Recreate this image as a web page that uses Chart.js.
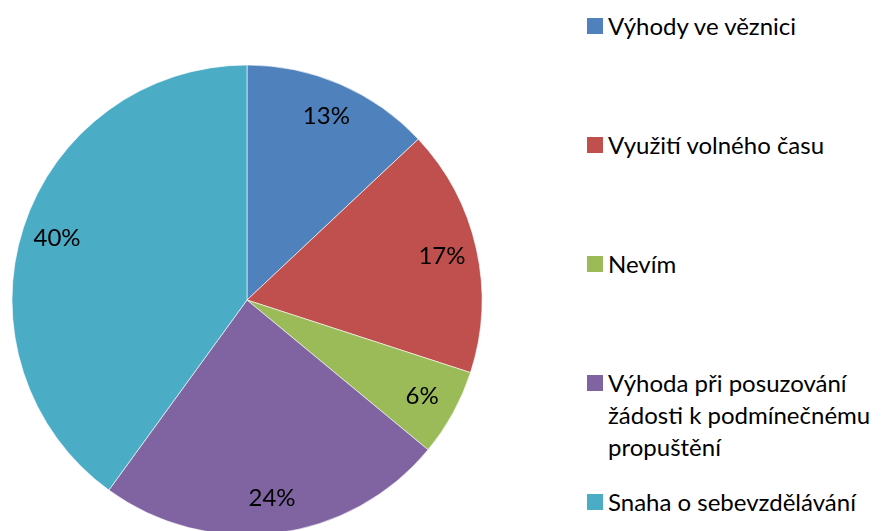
<!DOCTYPE html>
<html>
<head>
<meta charset="utf-8">
<script src="https://cdn.jsdelivr.net/npm/chart.js@4.4.1/dist/chart.umd.min.js"></script>
<style>
  html, body { margin:0; padding:0; width:881px; height:531px; overflow:hidden; background:#fff; }
  #wrap { position:absolute; left:0; top:0; width:494px; height:600px; }
  #legend { position:absolute; left:587px; top:0; font-family:'Lato', sans-serif; font-size:24px; color:#000; }
  .item { position:absolute; left:0; white-space:nowrap; }
  .sw { position:absolute; left:0; top:0; width:16px; height:16px; }
  .txt { position:absolute; left:21px; top:-8px; line-height:32px; }
</style>
</head>
<body>
<div id="wrap"><canvas id="c"></canvas></div>
<div id="legend"></div>
<script>
const categories = [
  ['Výhody ve věznici'],
  ['Využití volného času'],
  ['Nevím'],
  ['Výhoda při posuzování', 'žádosti k podmínečnému', 'propuštění'],
  ['Snaha o sebevzdělávání']
];
const values = [13, 17, 6, 24, 40];
const colors = ['#4F81BD', '#C0504D', '#9BBB59', '#8064A2', '#4BACC6'];

const labelPlugin = {
  id: 'pctLabels',
  afterDatasetsDraw(chart) {
    const ctx = chart.ctx;
    const meta = chart.getDatasetMeta(0);
    const total = values.reduce((a, b) => a + b, 0);
    ctx.save();
    ctx.font = '24px Lato, sans-serif';
    ctx.fillStyle = '#000';
    ctx.textAlign = 'center';
    ctx.textBaseline = 'middle';
    meta.data.forEach((arc, i) => {
      const p = arc.getProps(['x', 'y', 'startAngle', 'endAngle', 'outerRadius'], true);
      const mid = (p.startAngle + p.endAngle) / 2;
      const r = p.outerRadius * 0.85;
      const txt = Math.round(values[i] / total * 100) + '%';
      ctx.fillText(txt, p.x + Math.cos(mid) * r, p.y + Math.sin(mid) * r);
    });
    ctx.restore();
  }
};

new Chart(document.getElementById('c'), {
  type: 'pie',
  data: {
    labels: categories,
    datasets: [{
      data: values,
      backgroundColor: colors,
      borderColor: '#ffffff',
      borderWidth: 0.6,
      hoverOffset: 0,
      hoverBorderWidth: 0.6
    }]
  },
  options: {
    responsive: true,
    maintainAspectRatio: false,
    animation: false,
    radius: 235,
    layout: { padding: 12 },
    plugins: { legend: { display: false }, tooltip: { enabled: false } }
  },
  plugins: [labelPlugin]
});

const legend = document.getElementById('legend');
categories.forEach((lines, i) => {
  const item = document.createElement('div');
  item.className = 'item';
  item.style.top = (18 + i * 119) + 'px';
  const sw = document.createElement('div');
  sw.className = 'sw';
  sw.style.background = colors[i];
  const t = document.createElement('div');
  t.className = 'txt';
  t.innerHTML = lines.join('<br>');
  item.appendChild(sw);
  item.appendChild(t);
  legend.appendChild(item);
});
</script>
</body>
</html>
